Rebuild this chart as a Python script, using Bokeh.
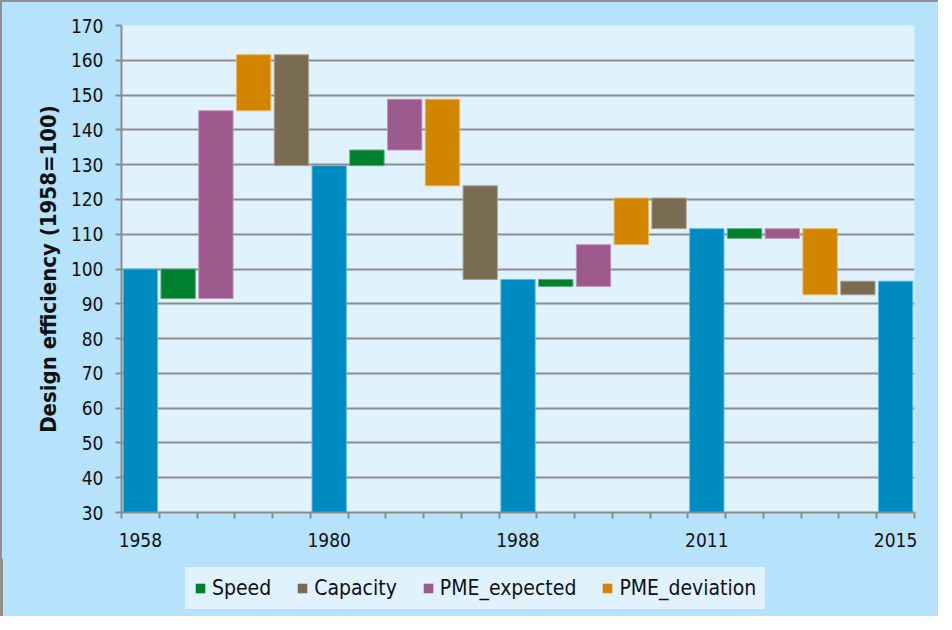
from bokeh.plotting import figure
from bokeh.models import Range1d, FixedTicker, Legend, LegendItem, ColumnDataSource
from bokeh.layouts import column
from bokeh.embed import file_html
from bokeh.resources import INLINE

# ---- data ----
milestone_labels = ["1958", "1980", "1988", "2011", "2015"]
start_value = 100.0
step_names = ["Speed", "PME_expected", "PME_deviation", "Capacity"]
speed = [-8.5, 4.5, -2.0, -2.8]
pme_expected = [54.0, 14.6, 12.0, 2.8]
pme_deviation = [16.1, -24.9, 13.4, -19.0]
capacity = [-31.9, -26.9, -8.8, 3.9]
y_ticks = [30, 40, 50, 60, 70, 80, 90, 100, 110, 120, 130, 140, 150, 160, 170]
legend_order = ["Speed", "Capacity", "PME_expected", "PME_deviation"]

deltas = {"Speed": speed, "PME_expected": pme_expected,
          "PME_deviation": pme_deviation, "Capacity": capacity}
colors = {"Speed": "#007F2E", "PME_expected": "#9C5A8C",
          "PME_deviation": "#D28500", "Capacity": "#7A6B53"}
edges = {"Speed": "#5FA97A", "PME_expected": "#C495BA",
         "PME_deviation": "#E8B566", "Capacity": "#ADA393"}
MS_COLOR = "#008BC0"
MS_EDGE = "#62BBE0"

# ---- waterfall layout ----
ms_x, ms_top = [], []
seg = {s: dict(x=[], bottom=[], top=[]) for s in step_names}
level = start_value
pos = 0
for g in range(len(speed)):
    ms_x.append(pos + 0.5); ms_top.append(level); pos += 1
    for s in step_names:
        d = deltas[s][g]
        seg[s]["x"].append(pos + 0.5)
        seg[s]["bottom"].append(min(level, level + d))
        seg[s]["top"].append(max(level, level + d))
        level += d
        pos += 1
ms_x.append(pos + 0.5); ms_top.append(level); pos += 1
n_cat = pos

FONT = "DejaVu Sans Condensed"
GRID = "#8C8C8C"
TXT = "#111111"
OUTER = "#B7E2FC"
INNER = "#E0F2FD"

W = 936
H1 = 556
H2 = 58

p = figure(width=W, height=H1, x_range=Range1d(0, n_cat), y_range=Range1d(30, 170),
           output_backend="svg", toolbar_location=None,
           min_border_left=119, min_border_right=24, min_border_top=23, min_border_bottom=46)
p.background_fill_color = INNER
p.border_fill_color = OUTER
p.outline_line_color = None

p.xgrid.visible = False
p.ygrid.ticker = FixedTicker(ticks=y_ticks)
p.ygrid.grid_line_color = GRID
p.ygrid.grid_line_width = 2

# y axis
ya = p.yaxis[0]
ya.ticker = FixedTicker(ticks=y_ticks)
ya.axis_line_color = GRID
ya.axis_line_width = 2
ya.major_tick_line_color = GRID
ya.major_tick_line_width = 2
ya.major_tick_out = 6
ya.major_tick_in = 0
ya.minor_tick_line_color = None
ya.major_label_text_font = FONT
ya.major_label_text_font_size = "19px"
ya.major_label_text_color = TXT
ya.major_label_standoff = 12
ya.axis_label = "Design efficiency (1958=100)"
ya.axis_label_text_font = FONT
ya.axis_label_text_font_size = "22px"
ya.axis_label_text_font_style = "bold"
ya.axis_label_text_color = TXT
ya.axis_label_standoff = 7

# x axis
xa = p.xaxis[0]
xa.ticker = FixedTicker(ticks=ms_x, minor_ticks=list(range(n_cat + 1)))
xa.major_label_overrides = {x: lab for x, lab in zip(ms_x, milestone_labels)}
xa.axis_line_color = GRID
xa.axis_line_width = 2
xa.major_tick_line_color = None
xa.major_tick_out = 6
xa.major_tick_in = 0
xa.minor_tick_line_color = GRID
xa.minor_tick_line_width = 2
xa.minor_tick_out = 6
xa.minor_tick_in = 0
xa.major_label_text_font = FONT
xa.major_label_text_font_size = "19px"
xa.major_label_text_color = TXT
xa.major_label_standoff = 14

BW = 0.91
p.vbar(x=ms_x, bottom=0, top=ms_top, width=BW, fill_color=MS_COLOR,
       line_color=MS_EDGE, line_width=1)

for s in step_names:
    src = ColumnDataSource(seg[s])
    p.vbar(x="x", bottom="bottom", top="top", width=BW, source=src,
           fill_color=colors[s], line_color=edges[s], line_width=1)

# ---- legend strip (separate figure below the chart) ----
p2 = figure(width=W, height=H2, x_range=Range1d(0, 1), y_range=Range1d(0, 1),
            output_backend="svg", toolbar_location=None,
            x_axis_type=None, y_axis_type=None, min_border=0)
p2.background_fill_color = None
p2.border_fill_color = None
p2.outline_line_color = None

legend_x = 63
if "frame_align" in p2.properties():
    p.frame_align = False
    p2.frame_align = False
    legend_x = 183

items = []
for s in legend_order:
    # swatch renderer lies outside the visible range; only its legend glyph shows
    r = p2.vbar(x=[-5], bottom=[0], top=[1], width=0.1, fill_color=colors[s], line_color=None)
    items.append(LegendItem(label=s, renderers=[r]))
legend = Legend(items=items, orientation="horizontal", location=(legend_x, 7))
legend.background_fill_color = INNER
legend.background_fill_alpha = 1
# a border in the box colour acts as inner padding
legend.border_line_color = INNER
legend.border_line_width = 9
legend.border_line_join = "miter"
legend.glyph_width = 12
legend.glyph_height = 12
legend.label_standoff = 6
legend.spacing = 25
legend.padding = 0
legend.margin = 0
legend.label_text_font = FONT
legend.label_text_font_size = "21px"
legend.label_text_color = TXT
p2.add_layout(legend)

layout = column(p, p2, spacing=0,
                styles={"border-left": "2px solid #8F8F8F", "border-top": "2px solid #8F8F8F",
                        "background-color": OUTER})

open("out.html", "w").write(file_html(layout, INLINE))
